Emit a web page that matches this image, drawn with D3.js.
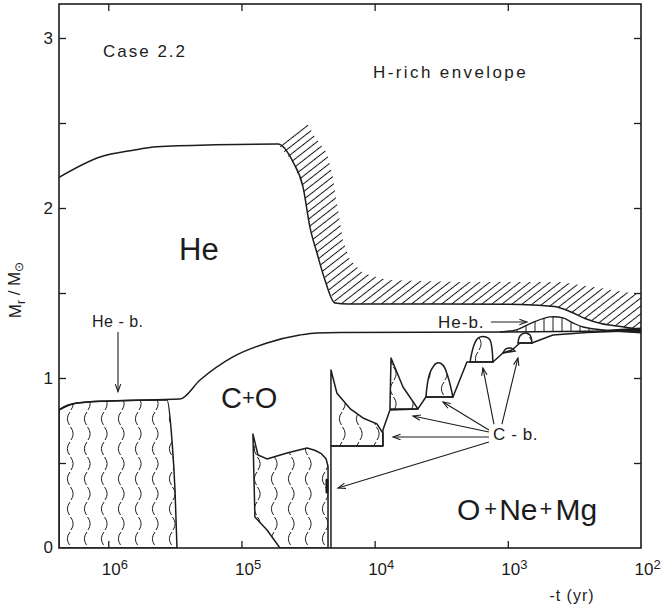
<!DOCTYPE html>
<html><head><meta charset="utf-8">
<script src="https://cdn.jsdelivr.net/npm/d3@7"></script>
<style>
body{margin:0;background:#fff}
svg{display:block}
text{font-family:"Liberation Sans",Arial,sans-serif;fill:#1c1c1c}
</style>
</head><body>
<svg id="c" width="664" height="606"></svg>
<script>
// x values are log10(-t / yr), y values are M_r / M_sun
const xTickExp = [6, 5, 4, 3, 2];
const yTickLabels = [0, 1, 2, 3];
const yTickAll = [0.5, 1, 1.5, 2, 2.5, 3];

const envelopeBase = [[6.37,2.18],[6.062,2.30],[5.814,2.34],[5.634,2.36],[5.2,2.372],[4.726,2.376],
  [4.613,2.271],[4.538,2.124],[4.486,1.888],[4.433,1.735],[4.373,1.576],[4.298,1.441],
  [4.2,1.435],[3.5,1.435],[2.9,1.433],[2.65,1.42],[2.53,1.39],[2.42,1.35],[2.3,1.32],[2.13,1.30],[2.0,1.285]];
const envelopeConvTop = [[4.726,2.376],[4.62,2.44],[4.508,2.50],[4.448,2.418],[4.358,2.324],[4.313,2.182],
  [4.275,1.988],[4.238,1.812],[4.185,1.694],[4.088,1.618],[3.908,1.576],[3.36,1.565],[2.61,1.565],[2.31,1.53],[2.0,1.49]];
const coreCO = [[6.37,0.812],[6.235,0.853],[5.987,0.865],[5.462,0.876],[5.311,0.988],[5.064,1.124],
  [4.808,1.206],[4.561,1.253],[4.433,1.265],[4.26,1.267],[3.0,1.27],[2.0,1.278]];
const heCoreConv = [[6.37,0],[6.37,0.812],[6.235,0.853],[5.987,0.865],[5.559,0.87],[5.522,0.635],[5.499,0.341],[5.484,0]];
const coreONeMg = [[4.328,0],[4.328,0.6],[3.938,0.6],[3.938,0.694],[3.885,0.812],[3.675,0.818],[3.615,0.888],
  [3.412,0.888],[3.307,1.094],[3.112,1.094],[3.037,1.147],[2.969,1.165],[2.909,1.206],[2.819,1.206],
  [2.661,1.253],[2.406,1.268],[2.106,1.276],[2.0,1.278]];
const cFlash1 = [[4.914,0.671],[4.899,0.182],[4.808,0.106],[4.711,0],[4.35,0],[4.35,0.48],[4.365,0.525],
  [4.40,0.555],[4.45,0.575],[4.508,0.588],[4.658,0.559],[4.808,0.524],[4.876,0.547]];
const cFlash2 = [[4.328,1.047],[4.283,0.91],[4.185,0.82],[4.088,0.765],[3.983,0.73],[3.938,0.676],[3.938,0.6],[4.328,0.6]];
const cFlash3 = [[3.885,0.818],[3.877,1.118],[3.787,0.947],[3.675,0.818]];
const cFlash4 = [[3.615,0.888],[3.585,1.029],[3.532,1.088],[3.487,1.076],[3.449,1.006],[3.412,0.888]];
const cFlash5 = [[3.284,1.094],[3.254,1.194],[3.224,1.235],[3.164,1.241],[3.134,1.224],[3.112,1.094]];
const cFlash6 = [[3.037,1.147],[3.014,1.171],[2.977,1.176],[2.947,1.159]];
const cFlash7 = [[2.924,1.206],[2.909,1.247],[2.872,1.265],[2.834,1.253],[2.819,1.206]];
const heShell = [[3.06,1.27],[2.93,1.285],[2.82,1.324],[2.684,1.359],[2.586,1.353],[2.511,1.324],[2.436,1.30],[2.256,1.28]];
const flash1Spot = [[4.358,0.40],[4.358,0.33]];
const convergeWedge = [[2.3,1.283],[2.0,1.297],[2.0,1.262],[2.3,1.276]];

const m = {l:59, r:641, t:4, b:548};
const x = d3.scaleLog().domain([10**6.37, 1e2]).range([m.l, m.r]);
const y = d3.scaleLinear().domain([0, 3.2]).range([m.b, m.t]);
const X = d => x(10 ** d[0]), Y = d => y(d[1]);
const ink = "#1c1c1c";

const svg = d3.select("#c");
const defs = svg.append("defs");
defs.append("clipPath").attr("id","clip").append("rect")
  .attr("x",m.l).attr("y",m.t).attr("width",m.r-m.l).attr("height",m.b-m.t);

// diagonal hatch
const hp = defs.append("pattern").attr("id","hatch").attr("patternUnits","userSpaceOnUse")
  .attr("width",8).attr("height",6.2).attr("patternTransform","rotate(-38)");
hp.append("line").attr("x1",0).attr("y1",3.1).attr("x2",8).attr("y2",3.1).attr("stroke","#111").attr("stroke-width",1);
// vertical hatch
const vp = defs.append("pattern").attr("id","vhatch").attr("patternUnits","userSpaceOnUse")
  .attr("width",9).attr("height",8);
vp.append("line").attr("x1",4).attr("y1",0).attr("x2",4).attr("y2",8).attr("stroke",ink).attr("stroke-width",1);
// wavy convective pattern: parallel broken sine columns
const wp = defs.append("pattern").attr("id","wave").attr("patternUnits","userSpaceOnUse")
  .attr("width",17).attr("height",30).attr("x",62).attr("y",6);
wp.append("path").attr("d","M8.5,1 Q13.5,7.5 9,14 M8,16 Q3,22.5 7.5,29")
  .attr("fill","none").attr("stroke",ink).attr("stroke-width",1);

const g = svg.append("g").attr("clip-path","url(#clip)");
const lineMono = d3.line().x(X).y(Y).curve(d3.curveMonotoneX);
const lineLin = d3.line().x(X).y(Y);
const lineCR = d3.line().x(X).y(Y).curve(d3.curveCatmullRom.alpha(0.5));

// convective envelope (hatched)
const envPoly = envelopeConvTop.concat(envelopeBase.filter(d => d[0] <= 4.726).slice().reverse());
g.append("path").attr("d", lineLin(envPoly) + "Z").attr("fill","url(#hatch)").attr("stroke","none");

// He shell burning (vertical hatch)
g.append("path").attr("d", lineCR(heShell) + "Z").attr("fill","url(#vhatch)").attr("stroke","none");
g.append("path").attr("d", lineCR(heShell)).attr("fill","none").attr("stroke",ink).attr("stroke-width",1.3);

// convective core He burning
g.append("path").attr("d", lineMono(heCoreConv) + "Z").attr("fill","url(#wave)").attr("stroke",ink).attr("stroke-width",1.5);

// carbon flashes
[cFlash1, cFlash2, cFlash3].forEach(f => {
  g.append("path").attr("d", lineLin(f) + "Z").attr("fill","url(#wave)").attr("stroke",ink).attr("stroke-width",1.5).attr("stroke-linejoin","round");
});
[cFlash4, cFlash5, cFlash6, cFlash7].forEach(f => {
  g.append("path").attr("d", lineCR(f) + "Z").attr("fill","url(#wave)").attr("stroke",ink).attr("stroke-width",1.5);
});
g.append("path").attr("d", lineLin(flash1Spot)).attr("stroke",ink).attr("stroke-width",3).attr("stroke-linecap","round");

// boundaries
g.append("path").attr("d", lineMono(envelopeBase)).attr("fill","none").attr("stroke",ink).attr("stroke-width",1.5);
g.append("path").attr("d", lineMono(coreCO)).attr("fill","none").attr("stroke",ink).attr("stroke-width",1.5);
g.append("path").attr("d", lineLin(coreONeMg)).attr("fill","none").attr("stroke",ink).attr("stroke-width",1.5).attr("stroke-linejoin","round");
g.append("path").attr("d", lineLin(convergeWedge) + "Z").attr("fill",ink);

// frame
svg.append("rect").attr("x",m.l).attr("y",m.t).attr("width",m.r-m.l).attr("height",m.b-m.t)
  .attr("fill","none").attr("stroke",ink).attr("stroke-width",1.6);

// axes
const xb = svg.append("g").attr("transform",`translate(0,${m.b})`)
  .call(d3.axisBottom(x).tickValues(xTickExp.map(e => 10 ** e)).tickSize(-7).tickPadding(15));
xb.select(".domain").remove();
xb.selectAll("line").attr("stroke",ink).attr("stroke-width",1.3);
xb.selectAll("text").each(function(d){
  const t = d3.select(this);
  const e = Math.round(Math.log10(d));
  t.text(null).attr("text-anchor","start").attr("x",-7).attr("font-size",17)
    .style("font-family","Liberation Sans, Arial, sans-serif").attr("fill",ink);
  t.append("tspan").text("10");
  t.append("tspan").attr("dy","-0.45em").attr("font-size",13).text(e);
});
xb.selectAll(".tick").filter(d => d === 100).select("line").remove();

const xt = svg.append("g").attr("transform",`translate(0,${m.t})`)
  .call(d3.axisTop(x).tickValues(xTickExp.filter(e => e > 2).map(e => 10 ** e)).tickSize(-7).tickFormat(""));
xt.select(".domain").remove();
xt.selectAll("line").attr("stroke",ink).attr("stroke-width",1.3);

const yl = svg.append("g").attr("transform",`translate(${m.l},0)`)
  .call(d3.axisLeft(y).tickValues(yTickAll).tickSize(-7).tickPadding(6)
    .tickFormat(d => yTickLabels.includes(d) ? d : ""));
yl.select(".domain").remove();
yl.selectAll("line").attr("stroke",ink).attr("stroke-width",1.3);
yl.selectAll("text").attr("font-size",17).style("font-family","Liberation Sans, Arial, sans-serif").attr("fill",ink);
yl.append("text").attr("x",-6).attr("y",y(0)).attr("dy","0.32em").attr("text-anchor","end")
  .attr("font-size",17).attr("fill",ink).text(yTickLabels[0]);

const yr = svg.append("g").attr("transform",`translate(${m.r},0)`)
  .call(d3.axisRight(y).tickValues(yTickAll).tickSize(-7).tickFormat(""));
yr.select(".domain").remove();
yr.selectAll("line").attr("stroke",ink).attr("stroke-width",1.3);

// axis titles
const yt = svg.append("text").attr("transform","translate(21,290) rotate(-90)").attr("text-anchor","middle").attr("font-size",17);
yt.append("tspan").text("M");
yt.append("tspan").attr("dy","0.3em").attr("font-size",12).text("r");
yt.append("tspan").attr("dy","-0.3em").text(" / M");
yt.append("tspan").attr("dy","0.3em").attr("font-size",12).text("⊙");
svg.append("text").attr("x",572).attr("y",601).attr("text-anchor","middle").attr("font-size",16)
  .attr("letter-spacing",1).text("-t (yr)");

// labels
const lab = (tx, ty, s, fs, ls) => svg.append("text").attr("x",tx).attr("y",ty).attr("font-size",fs)
  .attr("letter-spacing",ls || 0).text(s);
lab(103, 57, "Case 2.2", 17, 2);
lab(373, 78, "H-rich envelope", 17, 2.4);
lab(179, 260, "He", 31, 0);
const co = svg.append("text").attr("x",221).attr("y",408).attr("font-size",29);
co.append("tspan").text("C");
co.append("tspan").attr("font-size",22).attr("dy",-3).text("+");
co.append("tspan").attr("dy",3).text("O");
const onm = svg.append("text").attr("x",457).attr("y",520).attr("font-size",30);
onm.append("tspan").text("O");
onm.append("tspan").attr("font-size",22).attr("dx",4).attr("dy",-4).text("+");
onm.append("tspan").attr("dx",2).attr("dy",4).text("Ne");
onm.append("tspan").attr("font-size",22).attr("dx",2).attr("dy",-4).text("+");
onm.append("tspan").attr("dx",3).attr("dy",4).text("Mg");
lab(92, 327, "He - b.", 16, 0.5);
lab(438, 328, "He-b.", 17, 1);
lab(493, 440, "C - b.", 17, 0.6);

// arrows (data coordinates)
function arrow(a, b){
  const x1 = X(a), y1 = Y(a), x2 = X(b), y2 = Y(b);
  svg.append("line").attr("x1",x1).attr("y1",y1).attr("x2",x2).attr("y2",y2).attr("stroke",ink).attr("stroke-width",1.1);
  const ang = Math.atan2(y2-y1, x2-x1), L = 8, s = 0.35;
  const p = [[x2 - L*Math.cos(ang - s), y2 - L*Math.sin(ang - s)],[x2,y2],[x2 - L*Math.cos(ang + s), y2 - L*Math.sin(ang + s)]];
  svg.append("path").attr("d", d3.line()(p)).attr("fill","none").attr("stroke",ink).attr("stroke-width",1.1);
}
arrow([5.927,1.27],[5.927,0.92]);
arrow([3.127,1.329],[2.857,1.329]);
arrow([3.142,0.624],[4.275,0.353]);
arrow([3.142,0.653],[3.862,0.653]);
arrow([3.142,0.682],[3.712,0.776]);
arrow([3.142,0.694],[3.487,0.859]);
arrow([3.104,0.729],[3.187,1.059]);
arrow([3.044,0.729],[2.924,1.118]);
</script>
</body></html>
